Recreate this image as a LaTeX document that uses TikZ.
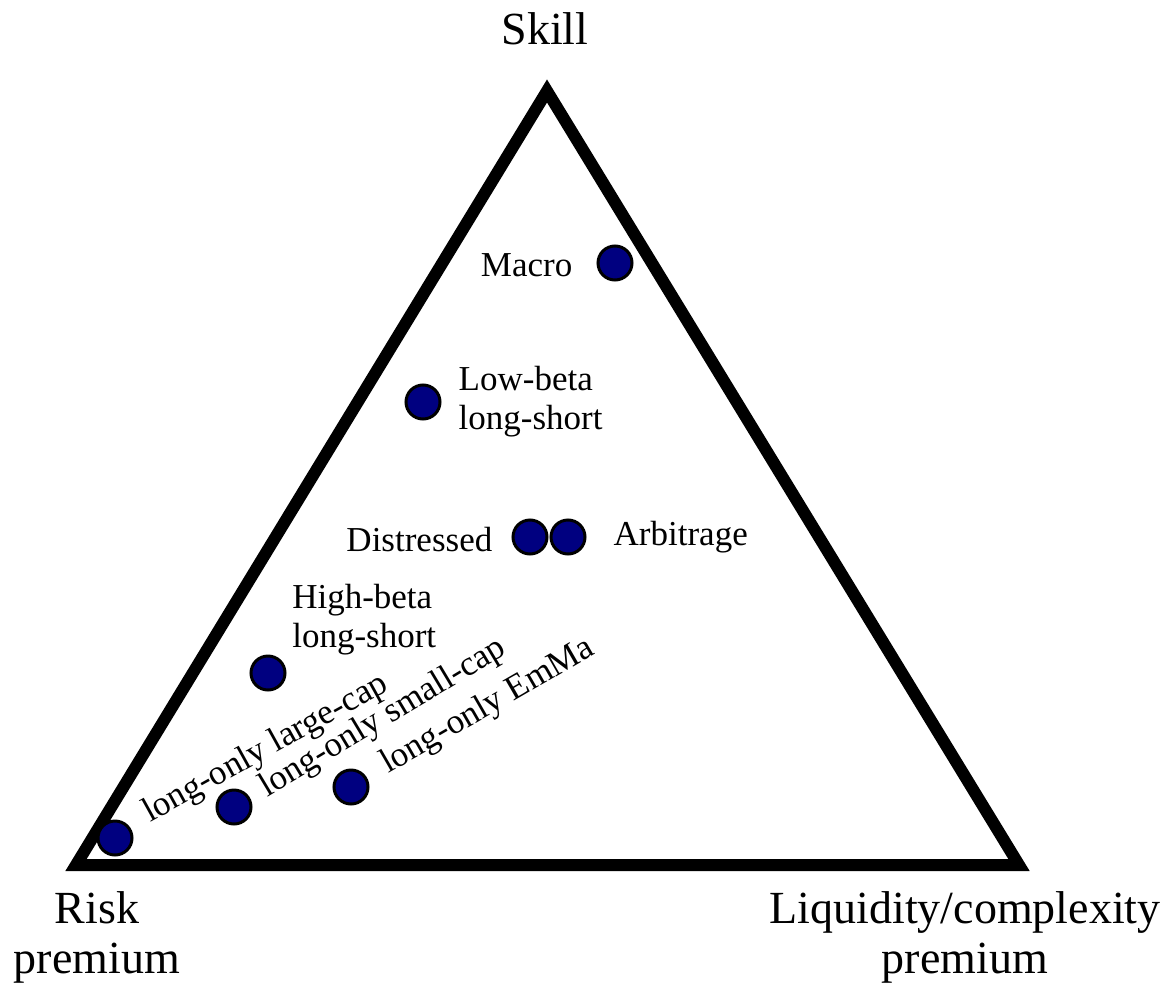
\documentclass[tikz,border=0pt]{standalone}
\usepackage{fontspec}
\setmainfont{Liberation Serif}
\usetikzlibrary{positioning}
\definecolor{fundblue}{RGB}{0,0,128}

\begin{document}
\begin{tikzpicture}[x=1pt,y=-1pt,
    fund/.style={circle,draw=black,line width=3pt,fill=fundblue,minimum size=34pt,inner sep=0pt},
    lab/.style={font=\fontsize{35}{39}\selectfont,inner sep=0pt,align=left},
    cornerlab/.style={font=\fontsize{46}{50}\selectfont,inner sep=0pt,align=center}]
  \useasboundingbox (0,0) rectangle (1170,985);
  \coordinate (skill) at (547,91);
  \coordinate (risk) at (76,865);
  \coordinate (liq) at (1019,865);
  \draw[line width=12pt,line join=miter] (skill) -- (risk) -- (liq) -- cycle;
  \node[cornerlab, above=46pt of skill, xshift=-2pt] (skilllab) {Skill};
  \node[cornerlab, below=26pt of risk, xshift=21pt] (risklab) {Risk\\premium};
  \node[cornerlab, below=26pt of liq, xshift=-54pt] (liqlab) {Liquidity/complexity\\premium};

  \node[fund] (macro) at (615,263) {};
  \node[lab, left=24pt of macro, yshift=-2pt] {Macro};
  \node[fund] (lowbeta) at (423,402) {};
  \node[lab, right=17pt of lowbeta] {Low-beta\\long-short};
  \node[fund] (distressed) at (530,537) {};
  \node[lab, left=19pt of distressed, yshift=-3pt] {Distressed};
  \node[fund] (arbitrage) at (568,537) {};
  \node[lab, right=27pt of arbitrage] {Arbitrage};
  \node[fund] (highbeta) at (268,673) {};
  \node[lab, above right=5pt and 11pt of highbeta] {High-beta\\long-short};
  \node[fund] (largecap) at (115,838) {};
  \node[lab, rotate=29, anchor=base west] (largelab) at (150,823) {long-only large-cap};
  \node[fund] (smallcap) at (234,807) {};
  \node[lab, rotate=31, anchor=base west] (smalllab) at (267,798) {long-only small-cap};
  \node[fund] (emma) at (351,787) {};
  \node[lab, rotate=30, anchor=base west] (emmalab) at (388,774) {long-only EmMa};
\end{tikzpicture}
\end{document}
